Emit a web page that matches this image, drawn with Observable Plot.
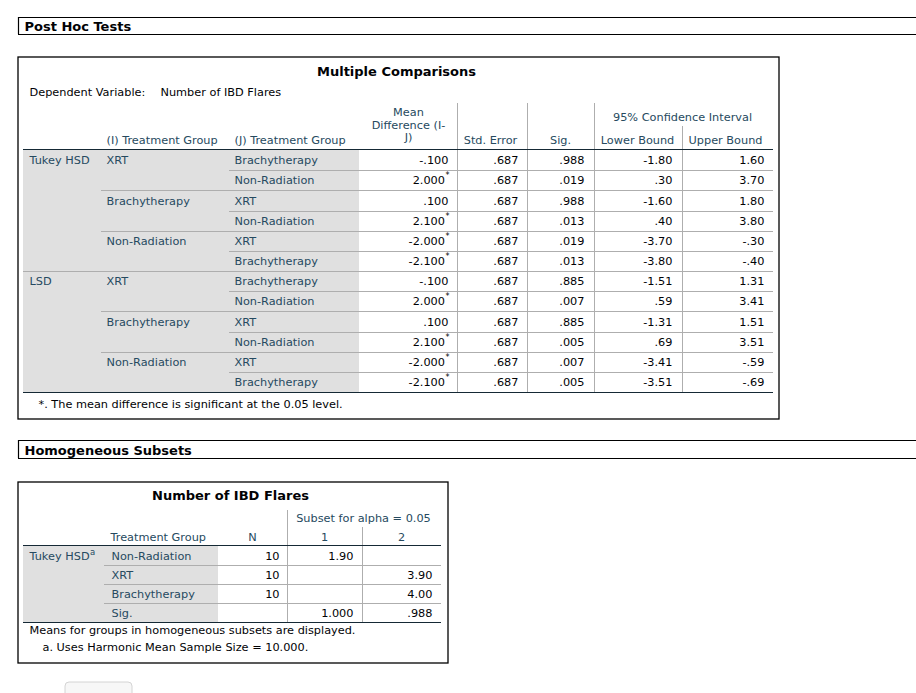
<!DOCTYPE html>
<html><head><meta charset="utf-8">
<script src="https://cdn.jsdelivr.net/npm/d3@7"></script>
<script src="https://cdn.jsdelivr.net/npm/@observablehq/plot@0.6"></script>
<style>html,body{margin:0;padding:0;background:#fff;}</style>
</head><body><div id="chart"></div>
<script>
// ---------------- DATA ----------------
const methods = ["Tukey HSD", "LSD"];
const groupI = ["XRT", "Brachytherapy", "Non-Radiation"];
const groupJ = ["Brachytherapy", "Non-Radiation", "XRT", "Non-Radiation", "XRT", "Brachytherapy"];
const meanDiff = [-0.100, 2.000, 0.100, 2.100, -2.000, -2.100];
const stdError = [0.687, 0.687, 0.687, 0.687, 0.687, 0.687];
const sigTukey = [0.988, 0.019, 0.988, 0.013, 0.019, 0.013];
const sigLSD = [0.885, 0.007, 0.885, 0.005, 0.007, 0.005];
const lowerTukey = [-1.80, 0.30, -1.60, 0.40, -3.70, -3.80];
const upperTukey = [1.60, 3.70, 1.80, 3.80, -0.30, -0.40];
const lowerLSD = [-1.51, 0.59, -1.31, 0.69, -3.41, -3.51];
const upperLSD = [1.31, 3.41, 1.51, 3.51, -0.59, -0.69];
const alpha = 0.05;

const hsGroups = ["Non-Radiation", "XRT", "Brachytherapy"];
const hsN = [10, 10, 10];
const hsSubset1 = [1.90, null, null];
const hsSubset2 = [null, 3.90, 4.00];
const hsSig = [1.000, 0.988];

// ---------------- STYLE / LAYOUT ----------------
const FONT = "'DejaVu Sans', sans-serif";
const FS = 11.3;
const LABEL = "#264a60", DATA = "#010205", GRID = "#aeaeae", DARK = "#152935", SHADE = "#e0e0e0";

const fmt = (v, d) => v == null ? "" : d3.format(`.${d}f`)(v).replace("\u2212", "-").replace(/^(-?)0\./, "$1.");

const T1 = {left: 23, right: 773, headTop: 103, ciTop: 126, headBottom: 149, bodyTop: 150, rowH: 20.17,
  colMethod: 29, colI: 106, colJ: 234, shadeRight: 359, sepI: 101, sepJ: 229,
  vlines: [457, 527, 594], vCI: 682, ends: {mean: 448, se: 518, sig: 584, lo: 672, hi: 764}};
const T2 = {left: 23, right: 441, headBottom: 545, bodyTop: 546, rowH: 19, colMethod: 29, colG: 111,
  shadeRight: 218, sep: 104, v1: 287, v1Top: 510, v2: 362, v2Top: 527, ends: {n: 279, s1: 353, s2: 432}};

// ---------------- TABLE 1 rows ----------------
const sigs = [sigTukey, sigLSD], lows = [lowerTukey, lowerLSD], highs = [upperTukey, upperLSD];
const rows1 = methods.flatMap((m, mi) => groupJ.map((j, k) => {
  const r = mi * 6 + k;
  return {method: m, mi, k, r, gi: groupI[Math.floor(k / 2)], gj: j,
    mean: meanDiff[k], se: stdError[k], sig: sigs[mi][k], lo: lows[mi][k], hi: highs[mi][k],
    star: sigs[mi][k] < alpha, y: T1.bodyTop + T1.rowH * (r + 0.5)};
}));
const numCells1 = rows1.flatMap(d => [
  {x: T1.ends.mean - (d.star ? 3.5 : 0), y: d.y, text: fmt(d.mean, 3)},
  {x: T1.ends.se, y: d.y, text: fmt(d.se, 3)},
  {x: T1.ends.sig, y: d.y, text: fmt(d.sig, 3)},
  {x: T1.ends.lo, y: d.y, text: fmt(d.lo, 2)},
  {x: T1.ends.hi, y: d.y, text: fmt(d.hi, 2)}
]);
const labCells1 = rows1.flatMap(d => [
  ...(d.k === 0 ? [{x: T1.colMethod, y: d.y, text: d.method}] : []),
  ...(d.k % 2 === 0 ? [{x: T1.colI, y: d.y, text: d.gi}] : []),
  {x: T1.colJ, y: d.y, text: d.gj}
]);
const seps1 = d3.range(1, 12).map(r => ({y: Math.round(T1.bodyTop + T1.rowH * r),
  x1: r === 6 ? T1.left : (r % 2 === 0 ? T1.sepI : T1.sepJ), x2: T1.right}));
const bottom1 = Math.round(T1.bodyTop + T1.rowH * 12);

// ---------------- TABLE 2 rows ----------------
const rows2 = hsGroups.map((g, i) => ({g, n: hsN[i], s1: hsSubset1[i], s2: hsSubset2[i], i,
  y: T2.bodyTop + T2.rowH * (i + 0.5)}));
const sigY2 = T2.bodyTop + T2.rowH * 3.5;
const numCells2 = [
  ...rows2.flatMap(d => [
    {x: T2.ends.n, y: d.y, text: String(d.n)},
    {x: T2.ends.s1, y: d.y, text: fmt(d.s1, 2)},
    {x: T2.ends.s2, y: d.y, text: fmt(d.s2, 2)}]),
  {x: T2.ends.s1, y: sigY2, text: fmt(hsSig[0], 3)},
  {x: T2.ends.s2, y: sigY2, text: fmt(hsSig[1], 3)}
].filter(d => d.text !== "");
const labCells2 = [
  {x: T2.colMethod, y: rows2[0].y, text: "Tukey HSD"},
  ...rows2.map(d => ({x: T2.colG, y: d.y, text: d.g})),
  {x: T2.colG, y: sigY2, text: "Sig."}
];
const bottom2 = T2.bodyTop + T2.rowH * 4;
const seps2 = [1, 2, 3].map(r => ({y: T2.bodyTop + T2.rowH * r, x1: T2.sep, x2: T2.right}));

// ---------------- headings & notes ----------------
const boldTexts = [
  {x: 24, y: 26.5, text: "Post Hoc Tests"},
  {x: 24, y: 450, text: "Homogeneous Subsets"},
];
const boldCentered = [
  {x: 396, y: 71, text: "Multiple Comparisons"},
  {x: 230, y: 495, text: "Number of IBD Flares"}
];
const notes = [
  {x: 29, y: 92, text: "Dependent Variable:"},
  {x: 160, y: 92, text: "Number of IBD Flares"},
  {x: 38, y: 404, text: "*. The mean difference is significant at the 0.05 level."},
  {x: 29, y: 630, text: "Means for groups in homogeneous subsets are displayed."},
  {x: 42, y: 647, text: "a. Uses Harmonic Mean Sample Size = 10.000."}
];
const headStart = [
  {x: T1.colI, y: 140, text: "(I) Treatment Group"},
  {x: T1.colJ, y: 140, text: "(J) Treatment Group"},
  {x: 110, y: 537, text: "Treatment Group"}
];
const headMiddle = [
  {x: 408, y: 112, text: "Mean"},
  {x: 408, y: 124.5, text: "Difference (I-"},
  {x: 408, y: 137, text: "J)"},
  {x: 490, y: 140, text: "Std. Error"},
  {x: 560, y: 140, text: "Sig."},
  {x: 682, y: 117, text: "95% Confidence Interval"},
  {x: 637, y: 139.5, text: "Lower Bound"},
  {x: 725, y: 139.5, text: "Upper Bound"},
  {x: 363, y: 518, text: "Subset for alpha = 0.05"},
  {x: 252, y: 537, text: "N"},
  {x: 324, y: 537, text: "1"},
  {x: 401, y: 537, text: "2"}
];

const txt = (data, anchor, extra = {}) => Plot.text(data, {x: "x", y: "y", text: "text", textAnchor: anchor,
  fontSize: FS, fontFamily: FONT, fill: DATA, ...extra});

const chart = Plot.plot({
  width: 916, height: 693, margin: 0,
  x: {type: "identity", axis: null}, y: {type: "identity", axis: null},
  style: {background: "#fff", fontFamily: FONT},
  marks: [
    Plot.rect([{x1: T1.left, x2: T1.shadeRight, y1: T1.bodyTop, y2: bottom1},
               {x1: T2.left, x2: T2.shadeRight, y1: T2.bodyTop, y2: bottom2}],
      {x1: "x1", x2: "x2", y1: "y1", y2: "y2", fill: SHADE}),
    Plot.ruleY([17, 34, 440, 458], {x1: 18, x2: 916, stroke: "#000", strokeWidth: 1.2}),
    Plot.ruleX([{y1: 17, y2: 34}, {y1: 440, y2: 458}], {x: 18, y1: "y1", y2: "y2", stroke: "#000", strokeWidth: 1.2}),
    Plot.rect([{x1: 18, x2: 779, y1: 57, y2: 419}, {x1: 18, x2: 448, y1: 482, y2: 663}],
      {x1: "x1", x2: "x2", y1: "y1", y2: "y2", fill: "none", stroke: "#000", strokeWidth: 1.3}),
    Plot.ruleY(seps1, {y: "y", x1: "x1", x2: "x2", stroke: GRID}),
    Plot.ruleX(T1.vlines, {y1: T1.headTop, y2: bottom1, stroke: GRID}),
    Plot.ruleX([T1.vCI], {y1: T1.ciTop, y2: bottom1, stroke: GRID}),
    Plot.ruleY([T1.headBottom, bottom1], {x1: T1.left, x2: T1.right, stroke: DARK}),
    Plot.ruleY(seps2, {y: "y", x1: "x1", x2: "x2", stroke: GRID}),
    Plot.ruleX([{x: T2.v1, y1: T2.v1Top}, {x: T2.v2, y1: T2.v2Top}], {x: "x", y1: "y1", y2: bottom2, stroke: GRID}),
    Plot.ruleY([T2.headBottom, bottom2], {x1: T2.left, x2: T2.right, stroke: DARK}),
    Plot.rect([{x1: 65, x2: 132, y1: 682, y2: 700}], {x1: "x1", x2: "x2", y1: "y1", y2: "y2",
      fill: "#f7f7f7", stroke: "#d4d4d4", rx: 4}),
    txt(boldTexts, "start", {fontWeight: "bold", fontSize: 13}),
    txt(boldCentered, "middle", {fontWeight: "bold", fontSize: 13}),
    txt(notes, "start"),
    txt(headStart, "start", {fill: LABEL}),
    txt(headMiddle, "middle", {fill: LABEL}),
    txt(labCells1, "start", {fill: LABEL}),
    txt(labCells2, "start", {fill: LABEL}),
    txt(numCells1, "end"),
    txt(numCells2, "end"),
    txt(rows1.filter(d => d.star).map(d => ({x: T1.ends.mean + 1, y: d.y - 5, text: "*"})), "end", {fontSize: 8}),
    txt([{x: 89.5, y: rows2[0].y - 4, text: "a"}], "start", {fill: LABEL, fontSize: 8.5})
  ]
});
document.getElementById("chart").appendChild(chart);
</script>
</body></html>
